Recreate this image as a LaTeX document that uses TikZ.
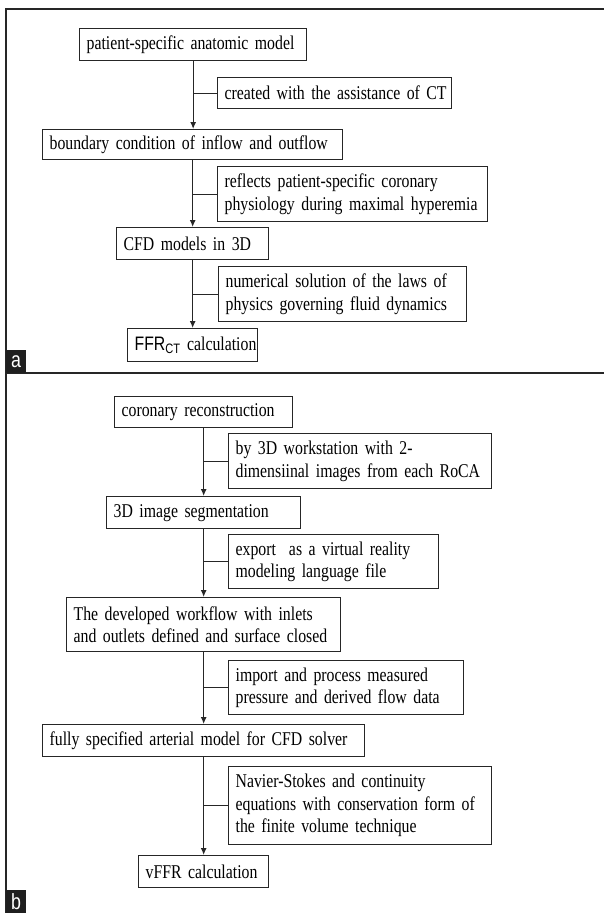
\documentclass[tikz,border=0pt]{standalone}
\usepackage{fontspec}
\setmainfont{Liberation Serif}[FakeStretch=0.81, WordSpace=0.75]
\newfontfamily\sansf{Liberation Sans}[FakeStretch=0.81]
\usetikzlibrary{arrows.meta}
\begin{document}
\begin{tikzpicture}[x=1pt,y=-1pt,
  fbox/.style={draw=black!85, line width=1.3pt, anchor=north west, align=left,
    inner xsep=7pt, inner ysep=0pt, font=\fontsize{19.5}{22.5}\selectfont},
  conn/.style={draw=black!85, line width=1.2pt},
  arr/.style={conn, -{Latex[length=7pt,width=6pt]}},
  frame/.style={draw=black!85, line width=2pt},
  lab/.style={fill=black!88, text=white, inner sep=0pt, minimum width=20pt,
    minimum height=23pt, anchor=south west, font=\sansf\fontsize{22}{22}\selectfont}]
\useasboundingbox (0,0) rectangle (604,913);
% frame
\draw[frame] (604,9) -- (6,9) -- (6,913);
\draw[frame] (6,373) -- (604,373);
\node[lab] (la) at (6,373) {a};
\node[lab] (lb) at (6,913) {b};
% panel a
\node[fbox, text width=213pt, minimum height=32pt] (A1) at (79,28) {\mbox{patient-specific anatomic model}};
\node[fbox, text width=220pt, minimum height=31pt] (A1s) at (217,77) {\mbox{created with the assistance of CT}};
\node[fbox, text width=286pt, minimum height=30pt] (A2) at (42,129) {\mbox{boundary condition of inflow and outflow}};
\node[fbox, text width=256pt, minimum height=55pt] (A2s) at (217,166) {\mbox{reflects patient-specific coronary}\\\mbox{physiology during maximal hyperemia}};
\node[fbox, text width=138pt, minimum height=32pt] (A3) at (116,227) {\mbox{CFD models in 3D}};
\node[fbox, text width=234pt, minimum height=55pt] (A3s) at (218,266) {\mbox{numerical solution of the laws of}\\\mbox{physics governing fluid dynamics}};
\node[fbox, text width=116pt, minimum height=33pt] (A4) at (127,328) {\mbox{{\sansf FFR\textsubscript{CT}} calculation}};
\draw[arr] (A1.south) -- (A1.south |- A2.north);
\draw[arr] (A2.south) -- (A2.south |- A3.north);
\draw[arr] (A3.south) -- (A3.south |- A4.north);
\draw[conn] (A1s.west) -- (A1s.west -| A1.south);
\draw[conn] (A2s.west) -- (A2s.west -| A2.south);
\draw[conn] (A3s.west) -- (A3s.west -| A3.south);
% panel b
\node[fbox, text width=164pt, minimum height=31pt] (B1) at (114,396) {\mbox{coronary reconstruction}};
\node[fbox, text width=249pt, minimum height=55pt] (B1s) at (228,433) {\mbox{by 3D workstation with 2-}\\\mbox{dimensiinal images from each RoCA}};
\node[fbox, text width=180pt, minimum height=32pt] (B2) at (106,496) {\mbox{3D image segmentation}};
\node[fbox, text width=196pt, minimum height=54pt] (B2s) at (228,534) {\mbox{export~ as a virtual reality}\\\mbox{modeling language file}};
\node[fbox, text width=260pt, minimum height=54pt] (B3) at (66,597) {\mbox{The developed workflow with inlets}\\\mbox{and outlets defined and surface closed}};
\node[fbox, text width=221pt, minimum height=54pt] (B3s) at (228,660) {\mbox{import and process measured}\\\mbox{pressure and derived flow data}};
\node[fbox, text width=308pt, minimum height=32pt] (B4) at (42,724) {\mbox{fully specified arterial model for CFD solver}};
\node[fbox, text width=249pt, minimum height=78pt] (B4s) at (228,766) {\mbox{Navier-Stokes and continuity}\\\mbox{equations with conservation form of}\\\mbox{the finite volume technique}};
\node[fbox, text width=116pt, minimum height=32pt] (B5) at (138,855) {\mbox{vFFR calculation}};
\draw[arr] (B1.south) -- (B1.south |- B2.north);
\draw[arr] (B2.south) -- (B2.south |- B3.north);
\draw[arr] (B3.south) -- (B3.south |- B4.north);
\draw[arr] (B4.south) -- (B4.south |- B5.north);
\draw[conn] (B1s.west) -- (B1s.west -| B1.south);
\draw[conn] (B2s.west) -- (B2s.west -| B2.south);
\draw[conn] (B3s.west) -- (B3s.west -| B3.south);
\draw[conn] (B4s.west) -- (B4s.west -| B4.south);
\end{tikzpicture}
\end{document}
